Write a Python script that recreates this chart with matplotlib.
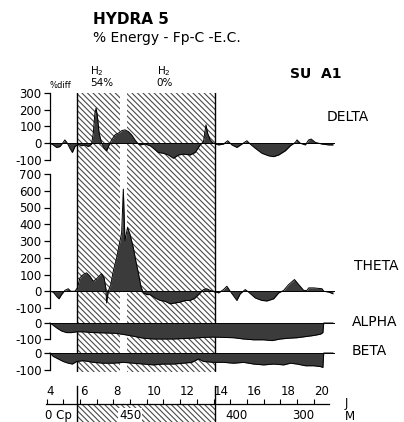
import numpy as np
import matplotlib
matplotlib.use("Agg")
import matplotlib.pyplot as plt
import matplotlib.transforms as mtransforms

plt.rcParams['font.family'] = ['DejaVu Sans']
plt.rcParams['axes.unicode_minus'] = False
plt.rcParams['hatch.linewidth'] = 0.8

# ---- data (x in J = days, y in % diff) ----
delta_t = [4.21, 4.4, 4.6, 4.8, 5.0, 5.1, 5.25, 5.4, 5.55, 5.7, 5.9, 6.1, 6.3, 6.5, 6.7,
           6.8, 6.9, 6.97, 7.05, 7.15, 7.3, 7.45, 7.6, 7.75, 7.9, 8.1, 8.3, 8.5, 8.7,
           8.9, 9.1, 9.3, 9.45, 9.6, 9.9, 10.2, 10.4, 10.7, 11.0, 11.3, 11.6, 11.9,
           12.2, 12.6, 12.9, 13.2, 13.4, 13.55, 13.65, 13.8, 14.0, 14.3, 14.6, 14.85,
           15.1, 15.4, 15.7, 16.0, 16.2, 16.5, 16.9, 17.3, 17.6, 17.9, 18.3, 18.6,
           18.9, 19.0, 19.2, 19.5, 19.7, 19.85, 20.1, 20.5, 20.9, 21.15]
delta_v = [0, -10, -25, -20, 5, 20, 0, -30, -55, -20, -5, -15, -10, -20, -5,
           60, 180, 210, 160, 60, 0, -30, -45, -10, 20, 50, 60, 75, 80,
           70, 50, 20, 0, -10, -5, -15, -30, -55, -60, -70, -90, -70,
           -65, -70, -55, -10, 10, 110, 60, 20, 0, -10, -5, 15,
           -10, -25, -5, 15, -5, -30, -60, -75, -80, -70, -45, -15,
           5, 20, 0, -10, 20, 25, 5, -5, -10, -10]

theta_t = [4.21, 4.4, 4.6, 4.75, 4.9, 5.1, 5.3, 5.45, 5.7, 5.85, 6.0, 6.2, 6.4, 6.6,
           6.8, 6.95, 7.15, 7.3, 7.45, 7.55, 7.6, 7.7, 7.85, 8.0, 8.2, 8.4, 8.5,
           8.6, 8.7, 8.85, 9.0, 9.2, 9.35, 9.5, 9.65, 9.8, 10.0, 10.2, 10.5, 10.8,
           11.1, 11.4, 11.7, 12.0, 12.3, 12.6, 12.9, 13.2, 13.4, 13.6, 13.8, 14.0,
           14.3, 14.6, 14.8, 15.0, 15.4, 15.6, 15.9, 16.1, 16.5, 16.9, 17.2, 17.6,
           17.9, 18.2, 18.5, 18.85, 19.1, 19.4, 19.6, 19.7, 20.0, 20.5, 20.6,
           20.9, 21.15]
theta_v = [0, -5, -30, -45, -20, 5, 15, 0, 0, 20, 80, 100, 110, 90,
           60, 70, 90, 105, 80, 20, -70, 0, 40, 120, 200, 300, 350,
           610, 300, 380, 340, 260, 180, 110, 30, -10, -20, -20, -40, -55,
           -60, -75, -70, -65, -55, -55, -40, -10, 10, 15, 5, 0,
           -10, 10, 30, 0, -55, -15, 10, -5, -40, -55, -58, -45,
           -10, 5, 40, 70, 40, 5, 5, 20, 20, 15, 0,
           -5, -15]

alpha_t = [4.21, 4.35, 4.6, 4.9, 5.2, 5.5, 5.8, 6.2, 6.8, 7.5, 8.2, 8.8, 9.3, 9.8,
           10.4, 11.0, 11.6, 12.2, 12.8, 13.4, 14.0, 14.6, 15.2, 15.8, 16.4, 17.0,
           17.5, 18.0, 18.5, 19.0, 19.5, 20.0, 20.4, 20.55, 20.6, 21.15]
alpha_v = [0, -10, -30, -50, -60, -60, -55, -55, -60, -62, -65, -75, -85, -95,
           -100, -100, -100, -97, -95, -90, -88, -90, -92, -100, -105, -105,
           -110, -100, -95, -92, -85, -78, -70, -60, 0, 0]

beta_t = [4.21, 4.4, 4.7, 5.0, 5.3, 5.55, 5.8, 6.2, 6.8, 7.4, 8.0, 8.6, 9.2, 9.8,
          10.4, 11.0, 11.6, 12.2, 12.7, 13.1, 13.4, 14.0, 14.6, 15.2, 15.8, 16.4,
          17.0, 17.6, 18.2, 18.6, 19.0, 19.5, 20.0, 20.4, 20.55, 20.6, 21.15]
beta_v = [0, -20, -35, -50, -60, -65, -50, -45, -55, -60, -60, -55, -60, -65,
          -70, -65, -65, -60, -55, -35, -50, -55, -55, -60, -55, -65,
          -70, -65, -70, -60, -65, -75, -75, -80, -85, 0, 0]

# H2 exposure periods (hatched) and the break between them
h2_spans = [(5.85, 8.4), (8.8, 14.1)]
h2_labels = ["H$_2$\n54%", "H$_2$\n0%"]
h2_label_x = [6.6, 10.6]

j_ticks = list(range(4, 21))
j_labels = [str(t) if t % 2 == 0 else "" for t in j_ticks]
m_labels = ["0 Cp", "450", "400", "300"]
m_pos = [3.9, 9.0, 15.35, 19.36]

W, H = 404, 422
fig = plt.figure(figsize=(W / 100, H / 100), dpi=100)


def box(x0, y0, x1, y1):
    return [x0 / W, 1 - y1 / H, (x1 - x0) / W, (y1 - y0) / H]


XL = (4.21, 21.275)
FILL = '#3b3b3b'
HATCH = '\\\\\\\\\\\\'
HCOL = '#4a4a4a'

# hatched background
axh = fig.add_axes(box(50, 93, 335, 372))
axh.set_xlim(XL)
axh.set_ylim(0, 1)
axh.axis('off')
for a, b in h2_spans:
    axh.axvspan(a, b, facecolor='none', edgecolor=HCOL, hatch=HATCH, linewidth=0)
axh.axvline(h2_spans[0][0], color='black', lw=1)
axh.axvline(h2_spans[-1][1], color='black', lw=1)


def panel(rect, t, v, ylim, ticks):
    ax = fig.add_axes(rect)
    ax.set_facecolor('none')
    ax.set_xlim(XL)
    ax.set_ylim(ylim)
    for s in ['top', 'right', 'bottom']:
        ax.spines[s].set_visible(False)
    ax.spines['left'].set_linewidth(0.9)
    ax.set_xticks([])
    ax.set_yticks(ticks)
    ax.tick_params(axis='y', direction='out', length=4, width=0.9, labelsize=8.5, pad=2)
    ax.fill_between(t, 0, v, color=FILL, lw=0, clip_on=False)
    ax.plot(t, v, color='black', lw=0.7, clip_on=False)
    ax.axhline(0, color='black', lw=0.7)
    return ax


ax_d = panel(box(50, 93, 335, 160), delta_t, delta_v, (-100, 300), [-100, 0, 100, 200, 300])
ax_t = panel(box(50, 174, 335, 308), theta_t, theta_v, (-100, 700), list(range(-100, 701, 100)))
ax_a = panel(box(50, 323, 335, 339), alpha_t, alpha_v, (-100, 0), [-100, 0])
ax_b = panel(box(50, 353, 335, 370), beta_t, beta_v, (-100, 0), [-100, 0])

# bottom time / altitude axis
axj = fig.add_axes(box(45.7, 404, 328.8, 422))
axj.set_xlim(3.95, 20.9)
axj.set_ylim(0, 1)
for s in ['left', 'right', 'bottom']:
    axj.spines[s].set_visible(False)
axj.spines['top'].set_linewidth(0.9)
axj.set_yticks([])
axj.xaxis.tick_top()
axj.set_xticks(j_ticks)
axj.set_xticklabels(j_labels)
axj.tick_params(axis='x', direction='out', length=3.5, width=0.8, labelsize=8.5, pad=1)
for lbl in axj.get_xticklabels():
    lbl.set_horizontalalignment('left')
axj.axvspan(h2_spans[0][0], h2_spans[-1][1], facecolor='none', edgecolor=HCOL,
            hatch=HATCH, linewidth=0)
for x in (h2_spans[0][0], h2_spans[-1][1]):
    axj.axvline(x, ymin=0, ymax=2.0, color='black', lw=1, clip_on=False)
trans = mtransforms.blended_transform_factory(axj.transData, axj.transAxes)
for lab, x in zip(m_labels, m_pos):
    axj.text(x, 0.38, lab, transform=trans, fontsize=8.5, va='center',
             ha='left' if lab == "0 Cp" else 'center',
             bbox=dict(facecolor='white', edgecolor='none', pad=0.5))
fig.text(345 / W, 1 - 403 / H, "J", fontsize=8.5, va='center')
fig.text(345 / W, 1 - 416 / H, "M", fontsize=8.5, va='center')

# titles and labels
fig.text(93 / W, 1 - 19 / H, "HYDRA 5", fontsize=11, fontweight='bold', va='center')
fig.text(93 / W, 1 - 38 / H, "% Energy - Fp-C -E.C.", fontsize=10, va='center')
fig.text(290 / W, 1 - 74 / H, "SU  A1", fontsize=10, fontweight='bold', va='center')
fig.text(50 / W, 1 - 86 / H, "%diff", fontsize=6, va='center')
trans_h = mtransforms.blended_transform_factory(ax_d.transData, fig.transFigure)
for lab, x in zip(h2_labels, h2_label_x):
    fig.text(x, 1 - 76 / H, lab, transform=trans_h, fontsize=7.5, va='center',
             ha='left', linespacing=1.0)

fig.text(327 / W, 1 - 117 / H, "DELTA", fontsize=10, va='center')
fig.text(354 / W, 1 - 266 / H, "THETA", fontsize=10, va='center')
fig.text(352 / W, 1 - 322 / H, "ALPHA", fontsize=10, va='center')
fig.text(352 / W, 1 - 351 / H, "BETA", fontsize=10, va='center')

fig.savefig("out.png", dpi=100)
